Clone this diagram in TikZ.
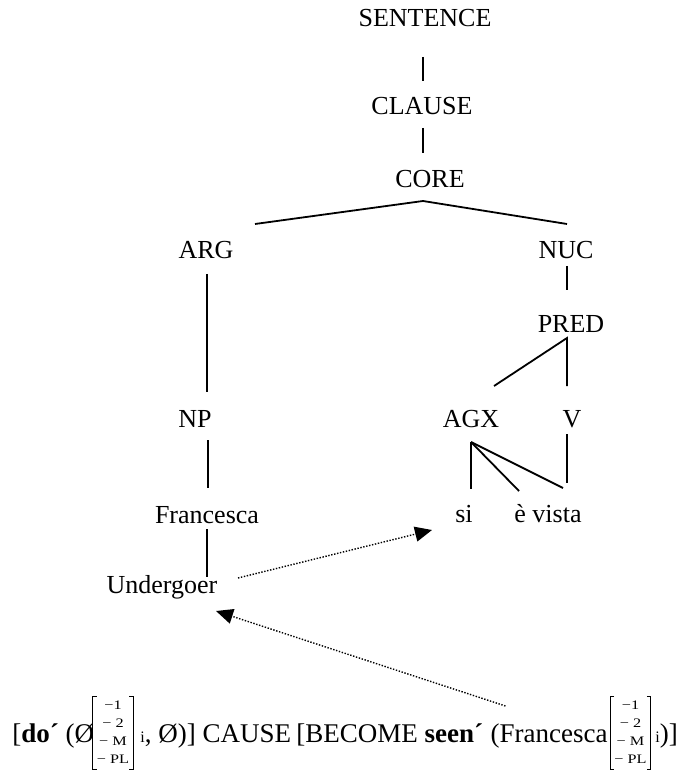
\documentclass[tikz,border=0pt]{standalone}
\usepackage{fontspec}
\usepackage{graphicx}
\setmainfont{Liberation Serif}
\usetikzlibrary{calc,arrows.meta}

% feature column -1 / -2 / -M / -PL in tiny type
\newcommand{\featcol}{\scalebox{1.25}[1]{\fontsize{6.5}{9}\selectfont
  \begin{tabular}{@{}c@{}}−1\\− 2\\− M\\− PL\end{tabular}}}
\newcommand{\idx}{{\fontsize{8}{8}\selectfont i}}

\begin{document}
\begin{tikzpicture}[x=0.5pt,y=-0.5pt,
  lbl/.style={anchor=base,inner sep=0pt,font=\fontsize{13}{15}\selectfont},
  branch/.style={line width=0.9pt},
  link/.style={line width=0.7pt,dash pattern=on 0.7pt off 0.8pt,
    -{Triangle[length=8.5pt,width=7.5pt]}},
  formula/.style={inner sep=0pt,font=\fontsize{13.5}{16}\selectfont},
  feat/.style={inner sep=0pt,minimum width=20pt,minimum height=35.5pt},
  bracket/.style={line width=0.45pt}]

\useasboundingbox (0,0) rectangle (683,780);

% tree labels
\node[lbl] (s)    at (425,27)  {SENTENCE};
\node[lbl] (cl)   at (422,115) {CLAUSE};
\node[lbl] (co)   at (430,188) {CORE};
\node[lbl] (arg)  at (206,259) {ARG};
\node[lbl] (nuc)  at (566,259) {NUC};
\node[lbl] (pred) at (571,332) {PRED};
\node[lbl] (np)   at (195,427) {NP};
\node[lbl] (agx)  at (471,427) {AGX};
\node[lbl] (v)    at (572,427) {V};
\node[lbl] (si)   at (464,522) {si};
\node[lbl] (ev)   at (548,522) {è vista};
\node[lbl] (fr)   at (207,523) {Francesca};
\node[lbl] (und)  at (162,593) {Undergoer};

% logical structure
\node[formula,anchor=base west] (f1) at (12,742) {[\textbf{do´} (Ø};
\node[feat] (m1) at (113,733) {\featcol};
\node[formula,anchor=base west] (f2) at (140,742) {\idx, Ø)] CAUSE};
\node[formula,anchor=base east] (f4) at (608,742) {\hspace*{3.4pt}(Francesca};
\node[formula,anchor=base east] (f3) at (f4.base west) {[BECOME \textbf{seen´}};
\node[feat] (m2) at (630.5,733) {\featcol};
\node[formula,anchor=base west] (f5) at (655,742) {\idx)]};

% brackets round the feature columns
\foreach \m in {m1,m2} {
  \draw[bracket] ([xshift=2pt]\m.north west) -- (\m.north west)
    -- (\m.south west) -- ([xshift=2pt]\m.south west);
  \draw[bracket] ([xshift=-2pt]\m.north east) -- (\m.north east)
    -- (\m.south east) -- ([xshift=-2pt]\m.south east);
}

% branches
\draw[branch] ($(s.base)+(-2,30)$) -- ($(cl.base)+(1,-34)$);
\draw[branch] ($(cl.base)+(1,13)$) -- ($(co.base)+(-7,-35)$);
\draw[branch] ($(arg.base)+(49,-35)$) -- ($(co.base)+(-7,13)$) -- ($(nuc.base)+(1,-35)$);
\draw[branch] ($(arg.base)+(1,15)$) -- ($(np.base)+(12,-35)$);
\draw[branch] ($(nuc.base)+(1,7)$) -- ($(pred.base)+(-4,-42)$);
\draw[branch] ($(agx.base)+(23,-41)$) -- ($(pred.base)+(-4,6)$) -- ($(v.base)+(-5,-41)$);
\draw[branch] ($(np.base)+(13,13)$) -- ($(fr.base)+(1,-35)$);
\draw[branch] ($(fr.base)+(0,6)$) -- ($(und.base)+(45,-16)$);
\draw[branch] ($(agx.base)+(0,15)$) -- ($(si.base)+(7,-33)$);
\draw[branch] ($(agx.base)+(0,15)$) -- ($(ev.base)+(-29,-31)$);
\draw[branch] ($(agx.base)+(0,15)$) -- ($(ev.base)+(15,-34)$);
\draw[branch] ($(v.base)+(-5,7)$) -- ($(ev.base)+(19,-39)$);

% linking arrows
\draw[link] ($(und.base)+(76,-15)$) -- ($(si.base)+(-32,8)$);
\draw[link] ($(f4.base west)+(22,-36)$) -- ($(und.base)+(54,18)$);
\end{tikzpicture}
\end{document}
